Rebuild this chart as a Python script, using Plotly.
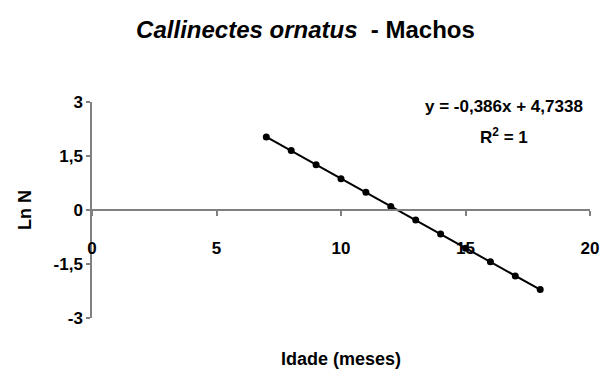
import plotly.graph_objects as go

# Age (months) and natural log of the number of crabs
idade = [7, 8, 9, 10, 11, 12, 13, 14, 15, 16, 17, 18]
ln_n = [2.03, 1.65, 1.26, 0.87, 0.49, 0.10, -0.28, -0.67, -1.06, -1.44, -1.83, -2.21]

# Linear fit reported on the chart
slope = -0.386
intercept = 4.7338

x_ticks = [0, 5, 10, 15, 20]
y_ticks = [3, 1.5, 0, -1.5, -3]
y_tick_text = ["3", "1,5", "0", "-1,5", "-3"]

FONT = "Liberation Sans, Arial, sans-serif"
AXIS_GREY = "#808080"

W, H = 611, 374
L, R, T, B = 92, 21, 102, 56
PW, PH = W - L - R, H - T - B

fit_x = [idade[0], idade[-1]]
fit_y = [slope * v + intercept for v in fit_x]

fig = go.Figure()
fig.add_trace(go.Scatter(
    x=fit_x, y=fit_y, mode="lines",
    line=dict(color="black", width=2), hoverinfo="skip", showlegend=False,
))
fig.add_trace(go.Scatter(
    x=idade, y=ln_n, mode="markers",
    marker=dict(color="black", size=7, symbol="circle"), showlegend=False,
))

fig.update_layout(
    width=W, height=H,
    margin=dict(l=L, r=R, t=T, b=B),
    paper_bgcolor="white", plot_bgcolor="white",
    font=dict(family=FONT, color="black"),
    title=dict(
        text="<b><i>Callinectes ornatus</i>  - Machos</b>",
        x=0.5, xref="container", xanchor="center",
        y=1 - 30 / H, yref="container", yanchor="middle",
        font=dict(family=FONT, size=24, color="black"),
    ),
    xaxis=dict(
        range=[0, 20], tickvals=x_ticks,
        anchor="free", position=0.5,
        showline=True, linecolor=AXIS_GREY, linewidth=1.5,
        ticks="outside", ticklen=5, tickcolor=AXIS_GREY, tickwidth=1.5,
        ticklabelstandoff=18,
        tickfont=dict(family=FONT, size=17, color="black", weight="bold"),
        showgrid=False, zeroline=False,
    ),
    yaxis=dict(
        range=[-3, 3], tickvals=y_ticks, ticktext=y_tick_text,
        showline=True, linecolor=AXIS_GREY, linewidth=1.5,
        ticks="outside", ticklen=4, tickcolor=AXIS_GREY, tickwidth=1.5,
        tickfont=dict(family=FONT, size=17, color="black", weight="bold"),
        showgrid=False, zeroline=False,
    ),
)

# Axis titles
fig.add_annotation(
    x=0.5, y=-(B - 15) / PH, xref="paper", yref="paper", showarrow=False,
    text="<b>Idade (meses)</b>", font=dict(family=FONT, size=18, color="black"),
    xanchor="center", yanchor="middle",
)
fig.add_annotation(
    x=-(L - 25) / PW, y=0.5, xref="paper", yref="paper", showarrow=False,
    text="<b>Ln N</b>", font=dict(family=FONT, size=18, color="black"),
    textangle=-90, xanchor="center", yanchor="middle",
)

# Regression equation
fig.add_annotation(
    x=(504 - L) / PW, y=1 - (106 - T) / PH, xref="paper", yref="paper",
    showarrow=False, text="<b>y = -0,386x + 4,7338</b>",
    font=dict(family=FONT, size=17, color="black"),
    xanchor="center", yanchor="middle",
)
fig.add_annotation(
    x=(504 - L) / PW, y=1 - (136 - T) / PH, xref="paper", yref="paper",
    showarrow=False, text="<b>R<sup>2</sup> = 1</b>",
    font=dict(family=FONT, size=17, color="black"),
    xanchor="center", yanchor="middle",
)

fig.write_html("out.html")
